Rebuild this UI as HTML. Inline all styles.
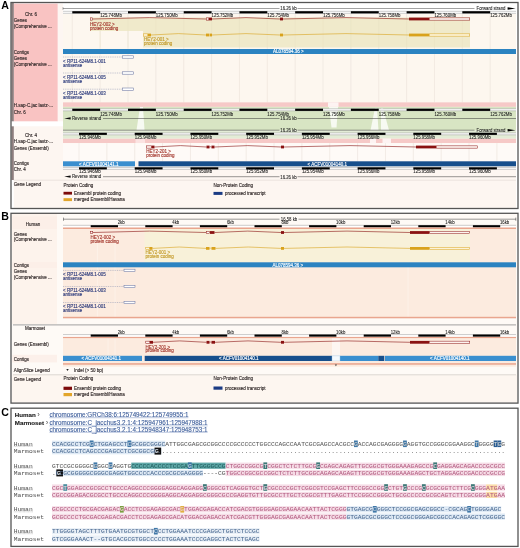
<!DOCTYPE html>
<html><head><meta charset="utf-8"><title>Ensembl alignment figure</title>
<style>
html,body{margin:0;padding:0;background:#fff;width:520px;height:548px;overflow:hidden;}
svg{display:block;filter:blur(0.3px);font-family:"Liberation Sans",sans-serif;}
</style></head>
<body>
<svg width="520" height="548" viewBox="0 0 520 548">
<rect x="0" y="0" width="520" height="548" fill="#fff"/>
<text x="1.20" y="9.32" font-size="10.6" fill="#000" text-anchor="start" font-weight="bold" font-family="Liberation Sans">A</text>
<text x="1.20" y="220.22" font-size="10.6" fill="#000" text-anchor="start" font-weight="bold" font-family="Liberation Sans">B</text>
<text x="1.20" y="415.72" font-size="10.6" fill="#000" text-anchor="start" font-weight="bold" font-family="Liberation Sans">C</text>
<rect x="13.80" y="3.60" width="44.00" height="117.70" fill="#f9c3c2"/>
<rect x="57.80" y="3.60" width="5.20" height="117.70" fill="#fdf6f2"/>
<rect x="13.80" y="126.30" width="502.20" height="81.50" fill="#fdf6f1"/>
<rect x="11.40" y="3.00" width="2.40" height="118.30" fill="#8e7e7e"/>
<rect x="11.40" y="126.30" width="2.40" height="53.70" fill="#8e7e7e"/>
<rect x="63.00" y="3.00" width="453.00" height="11.00" fill="#ffffff"/>
<line x1="63.00" y1="8.50" x2="279.50" y2="8.50" stroke="#444" stroke-width="0.5"/>
<line x1="297.50" y1="8.50" x2="474.50" y2="8.50" stroke="#444" stroke-width="0.5"/>
<line x1="63.00" y1="7.30" x2="63.00" y2="9.70" stroke="#444" stroke-width="0.5"/>
<text x="288.50" y="10.43" font-size="4.8" fill="#222" text-anchor="middle" font-weight="normal" font-family="Liberation Sans" stroke="#222" stroke-width="0.08" textLength="16.50" lengthAdjust="spacingAndGlyphs">16.26 kb</text>
<text x="476.50" y="10.43" font-size="4.8" fill="#222" text-anchor="start" font-weight="normal" font-family="Liberation Sans" stroke="#222" stroke-width="0.08" textLength="28.92" lengthAdjust="spacingAndGlyphs">Forward strand</text>
<polygon points="507.60,7.30 515.60,8.50 507.60,9.70" fill="#000"/>
<rect x="63.00" y="14.00" width="453.00" height="88.30" fill="#fdf7ef"/>
<rect x="63.00" y="11.30" width="453.00" height="2.00" fill="#ffffff"/>
<line x1="63.00" y1="11.30" x2="516.00" y2="11.30" stroke="#999" stroke-width="0.5"/>
<line x1="63.00" y1="13.30" x2="516.00" y2="13.30" stroke="#999" stroke-width="0.5"/>
<rect x="72.28" y="11.20" width="27.86" height="2.20" fill="#000"/>
<rect x="128.00" y="11.20" width="27.86" height="2.20" fill="#000"/>
<rect x="183.72" y="11.20" width="27.86" height="2.20" fill="#000"/>
<rect x="239.44" y="11.20" width="27.86" height="2.20" fill="#000"/>
<rect x="295.16" y="11.20" width="27.86" height="2.20" fill="#000"/>
<rect x="350.88" y="11.20" width="27.86" height="2.20" fill="#000"/>
<rect x="406.60" y="11.20" width="27.86" height="2.20" fill="#000"/>
<rect x="462.32" y="11.20" width="27.86" height="2.20" fill="#000"/>
<text x="100.14" y="17.43" font-size="4.8" fill="#222" text-anchor="start" font-weight="normal" font-family="Liberation Sans" stroke="#222" stroke-width="0.08" textLength="21.72" lengthAdjust="spacingAndGlyphs">125.748Mb</text>
<text x="155.86" y="17.43" font-size="4.8" fill="#222" text-anchor="start" font-weight="normal" font-family="Liberation Sans" stroke="#222" stroke-width="0.08" textLength="21.72" lengthAdjust="spacingAndGlyphs">125.750Mb</text>
<text x="211.58" y="17.43" font-size="4.8" fill="#222" text-anchor="start" font-weight="normal" font-family="Liberation Sans" stroke="#222" stroke-width="0.08" textLength="21.72" lengthAdjust="spacingAndGlyphs">125.752Mb</text>
<text x="267.30" y="17.43" font-size="4.8" fill="#222" text-anchor="start" font-weight="normal" font-family="Liberation Sans" stroke="#222" stroke-width="0.08" textLength="21.72" lengthAdjust="spacingAndGlyphs">125.754Mb</text>
<text x="323.02" y="17.43" font-size="4.8" fill="#222" text-anchor="start" font-weight="normal" font-family="Liberation Sans" stroke="#222" stroke-width="0.08" textLength="21.72" lengthAdjust="spacingAndGlyphs">125.756Mb</text>
<text x="378.74" y="17.43" font-size="4.8" fill="#222" text-anchor="start" font-weight="normal" font-family="Liberation Sans" stroke="#222" stroke-width="0.08" textLength="21.72" lengthAdjust="spacingAndGlyphs">125.758Mb</text>
<text x="434.46" y="17.43" font-size="4.8" fill="#222" text-anchor="start" font-weight="normal" font-family="Liberation Sans" stroke="#222" stroke-width="0.08" textLength="21.72" lengthAdjust="spacingAndGlyphs">125.760Mb</text>
<text x="490.18" y="17.43" font-size="4.8" fill="#222" text-anchor="start" font-weight="normal" font-family="Liberation Sans" stroke="#222" stroke-width="0.08" textLength="21.72" lengthAdjust="spacingAndGlyphs">125.762Mb</text>
<line x1="72.28" y1="14.00" x2="72.28" y2="102.30" stroke="#e6ddd4" stroke-width="0.5"/>
<line x1="100.14" y1="14.00" x2="100.14" y2="102.30" stroke="#e6ddd4" stroke-width="0.5"/>
<line x1="128.00" y1="14.00" x2="128.00" y2="102.30" stroke="#e6ddd4" stroke-width="0.5"/>
<line x1="155.86" y1="14.00" x2="155.86" y2="102.30" stroke="#e6ddd4" stroke-width="0.5"/>
<line x1="183.72" y1="14.00" x2="183.72" y2="102.30" stroke="#e6ddd4" stroke-width="0.5"/>
<line x1="211.58" y1="14.00" x2="211.58" y2="102.30" stroke="#e6ddd4" stroke-width="0.5"/>
<line x1="239.44" y1="14.00" x2="239.44" y2="102.30" stroke="#e6ddd4" stroke-width="0.5"/>
<line x1="267.30" y1="14.00" x2="267.30" y2="102.30" stroke="#e6ddd4" stroke-width="0.5"/>
<line x1="295.16" y1="14.00" x2="295.16" y2="102.30" stroke="#e6ddd4" stroke-width="0.5"/>
<line x1="323.02" y1="14.00" x2="323.02" y2="102.30" stroke="#e6ddd4" stroke-width="0.5"/>
<line x1="350.88" y1="14.00" x2="350.88" y2="102.30" stroke="#e6ddd4" stroke-width="0.5"/>
<line x1="378.74" y1="14.00" x2="378.74" y2="102.30" stroke="#e6ddd4" stroke-width="0.5"/>
<line x1="406.60" y1="14.00" x2="406.60" y2="102.30" stroke="#e6ddd4" stroke-width="0.5"/>
<line x1="434.46" y1="14.00" x2="434.46" y2="102.30" stroke="#e6ddd4" stroke-width="0.5"/>
<line x1="462.32" y1="14.00" x2="462.32" y2="102.30" stroke="#e6ddd4" stroke-width="0.5"/>
<line x1="490.18" y1="14.00" x2="490.18" y2="102.30" stroke="#e6ddd4" stroke-width="0.5"/>
<rect x="90.00" y="17.50" width="380.00" height="13.50" fill="#f0eacb"/>
<rect x="143.00" y="31.00" width="327.00" height="16.50" fill="#f0eacb"/>
<line x1="100.14" y1="17.50" x2="100.14" y2="47.50" stroke="#e6dfc0" stroke-width="0.4"/>
<line x1="128.00" y1="17.50" x2="128.00" y2="47.50" stroke="#e6dfc0" stroke-width="0.4"/>
<line x1="155.86" y1="17.50" x2="155.86" y2="47.50" stroke="#e6dfc0" stroke-width="0.4"/>
<line x1="183.72" y1="17.50" x2="183.72" y2="47.50" stroke="#e6dfc0" stroke-width="0.4"/>
<line x1="211.58" y1="17.50" x2="211.58" y2="47.50" stroke="#e6dfc0" stroke-width="0.4"/>
<line x1="239.44" y1="17.50" x2="239.44" y2="47.50" stroke="#e6dfc0" stroke-width="0.4"/>
<line x1="267.30" y1="17.50" x2="267.30" y2="47.50" stroke="#e6dfc0" stroke-width="0.4"/>
<line x1="295.16" y1="17.50" x2="295.16" y2="47.50" stroke="#e6dfc0" stroke-width="0.4"/>
<line x1="323.02" y1="17.50" x2="323.02" y2="47.50" stroke="#e6dfc0" stroke-width="0.4"/>
<line x1="350.88" y1="17.50" x2="350.88" y2="47.50" stroke="#e6dfc0" stroke-width="0.4"/>
<line x1="378.74" y1="17.50" x2="378.74" y2="47.50" stroke="#e6dfc0" stroke-width="0.4"/>
<line x1="406.60" y1="17.50" x2="406.60" y2="47.50" stroke="#e6dfc0" stroke-width="0.4"/>
<line x1="434.46" y1="17.50" x2="434.46" y2="47.50" stroke="#e6dfc0" stroke-width="0.4"/>
<line x1="462.32" y1="17.50" x2="462.32" y2="47.50" stroke="#e6dfc0" stroke-width="0.4"/>
<path d="M92.60,19.00 L149.30,17.60 L206.00,19.00 M212.00,19.00 L246.00,17.60 L280.00,19.00 M283.00,19.00 L346.00,17.60 L409.00,19.00 " stroke="#8a1212" stroke-width="0.6" fill="none"/>
<rect x="90.25" y="17.85" width="2.10" height="2.30" fill="#fdf3ef" stroke="#8a1212" stroke-width="0.5"/>
<rect x="206.25" y="17.85" width="2.50" height="2.30" fill="#fdf3ef" stroke="#8a1212" stroke-width="0.5"/>
<rect x="209.00" y="17.60" width="3.00" height="2.80" fill="#8a1212"/>
<rect x="280.00" y="17.60" width="3.00" height="2.80" fill="#8a1212"/>
<rect x="409.00" y="17.60" width="20.00" height="2.80" fill="#8a1212"/>
<rect x="429.25" y="17.85" width="40.50" height="2.30" fill="#fdf3ef" stroke="#8a1212" stroke-width="0.5"/>
<text x="90.00" y="25.62" font-size="4.5" fill="#a3362c" text-anchor="start" font-weight="normal" font-family="Liberation Sans" stroke="#a3362c" stroke-width="0.13">HEY2-002 &gt;</text>
<text x="90.00" y="29.82" font-size="4.5" fill="#a3362c" text-anchor="start" font-weight="normal" font-family="Liberation Sans" stroke="#a3362c" stroke-width="0.13">protein coding</text>
<path d="M151.00,35.00 L178.50,33.60 L206.00,35.00 M212.00,35.00 L246.00,33.60 L280.00,35.00 M283.00,35.00 L346.00,33.60 L409.00,35.00 " stroke="#d9a21c" stroke-width="0.6" fill="none"/>
<rect x="143.25" y="33.85" width="4.50" height="2.30" fill="#fcf3d6" stroke="#d9a21c" stroke-width="0.5"/>
<rect x="148.00" y="33.60" width="3.00" height="2.80" fill="#d9a21c"/>
<rect x="206.00" y="33.60" width="3.00" height="2.80" fill="#d9a21c"/>
<rect x="209.50" y="33.60" width="2.50" height="2.80" fill="#d9a21c"/>
<rect x="280.00" y="33.60" width="3.00" height="2.80" fill="#d9a21c"/>
<rect x="409.00" y="33.60" width="20.00" height="2.80" fill="#d9a21c"/>
<rect x="429.25" y="33.85" width="40.50" height="2.30" fill="#fcf3d6" stroke="#d9a21c" stroke-width="0.5"/>
<text x="144.00" y="41.12" font-size="4.5" fill="#c49a28" text-anchor="start" font-weight="normal" font-family="Liberation Sans" stroke="#c49a28" stroke-width="0.13">HEY2-001 &gt;</text>
<text x="144.00" y="45.22" font-size="4.5" fill="#c49a28" text-anchor="start" font-weight="normal" font-family="Liberation Sans" stroke="#c49a28" stroke-width="0.13">protein coding</text>
<rect x="63.00" y="49.00" width="453.00" height="5.00" fill="#2b83c1"/>
<text x="273.00" y="53.22" font-size="4.5" fill="#fff" text-anchor="start" font-weight="normal" font-family="Liberation Sans" stroke="#fff" stroke-width="0.13">AL078594.36 &gt;</text>
<line x1="63.00" y1="57.00" x2="122.30" y2="57.00" stroke="#8890b0" stroke-width="0.5" stroke-dasharray="1,0.8"/>
<rect x="122.30" y="55.80" width="11.00" height="2.40" fill="#fff" stroke="#6a76a2" stroke-width="0.55"/>
<text x="63.00" y="62.72" font-size="4.5" fill="#2b3a7c" text-anchor="start" font-weight="normal" font-family="Liberation Sans" stroke="#2b3a7c" stroke-width="0.13">&lt; RP11-624M8.1-001</text>
<text x="63.00" y="66.92" font-size="4.5" fill="#2b3a7c" text-anchor="start" font-weight="normal" font-family="Liberation Sans" stroke="#2b3a7c" stroke-width="0.13">antisense</text>
<line x1="63.00" y1="73.00" x2="122.30" y2="73.00" stroke="#8890b0" stroke-width="0.5" stroke-dasharray="1,0.8"/>
<rect x="122.30" y="71.80" width="11.00" height="2.40" fill="#fff" stroke="#6a76a2" stroke-width="0.55"/>
<text x="63.00" y="78.72" font-size="4.5" fill="#2b3a7c" text-anchor="start" font-weight="normal" font-family="Liberation Sans" stroke="#2b3a7c" stroke-width="0.13">&lt; RP11-624M8.1-005</text>
<text x="63.00" y="82.92" font-size="4.5" fill="#2b3a7c" text-anchor="start" font-weight="normal" font-family="Liberation Sans" stroke="#2b3a7c" stroke-width="0.13">antisense</text>
<line x1="63.00" y1="89.20" x2="122.30" y2="89.20" stroke="#8890b0" stroke-width="0.5" stroke-dasharray="1,0.8"/>
<rect x="122.30" y="88.00" width="11.00" height="2.40" fill="#fff" stroke="#6a76a2" stroke-width="0.55"/>
<text x="63.00" y="94.92" font-size="4.5" fill="#2b3a7c" text-anchor="start" font-weight="normal" font-family="Liberation Sans" stroke="#2b3a7c" stroke-width="0.13">&lt; RP11-624M8.1-003</text>
<text x="63.00" y="99.12" font-size="4.5" fill="#2b3a7c" text-anchor="start" font-weight="normal" font-family="Liberation Sans" stroke="#2b3a7c" stroke-width="0.13">antisense</text>
<text x="31.00" y="15.82" font-size="4.5" fill="#2e2626" text-anchor="middle" font-weight="normal" font-family="Liberation Sans" stroke="#2e2626" stroke-width="0.13">Chr. 6</text>
<text x="13.80" y="22.42" font-size="4.5" fill="#2e2626" text-anchor="start" font-weight="normal" font-family="Liberation Sans" stroke="#2e2626" stroke-width="0.13">Genes</text>
<text x="13.80" y="28.02" font-size="4.5" fill="#2e2626" text-anchor="start" font-weight="normal" font-family="Liberation Sans" stroke="#2e2626" stroke-width="0.13">(Comprehensive ...</text>
<text x="13.80" y="53.52" font-size="4.5" fill="#2e2626" text-anchor="start" font-weight="normal" font-family="Liberation Sans" stroke="#2e2626" stroke-width="0.13">Contigs</text>
<text x="13.80" y="59.92" font-size="4.5" fill="#2e2626" text-anchor="start" font-weight="normal" font-family="Liberation Sans" stroke="#2e2626" stroke-width="0.13">Genes</text>
<text x="13.80" y="65.62" font-size="4.5" fill="#2e2626" text-anchor="start" font-weight="normal" font-family="Liberation Sans" stroke="#2e2626" stroke-width="0.13">(Comprehensive ...</text>
<text x="13.80" y="106.62" font-size="4.5" fill="#2e2626" text-anchor="start" font-weight="normal" font-family="Liberation Sans" stroke="#2e2626" stroke-width="0.13">H.sap-C.jac lastz-...</text>
<text x="13.80" y="113.62" font-size="4.5" fill="#2e2626" text-anchor="start" font-weight="normal" font-family="Liberation Sans" stroke="#2e2626" stroke-width="0.13">Chr. 6</text>
<rect x="63.00" y="102.30" width="453.00" height="4.60" fill="#f6c9c7"/>
<rect x="63.00" y="106.90" width="453.00" height="23.30" fill="#d8e5c3"/>
<rect x="63.00" y="138.50" width="453.00" height="4.60" fill="#f6c9c7"/>
<rect x="63.00" y="130.20" width="453.00" height="8.30" fill="#e3ecd6"/>
<rect x="328.00" y="102.30" width="10.50" height="4.60" fill="#fdf3f2"/>
<polygon points="329.00,106.90 338.00,106.90 336.50,127.50 331.50,127.50" fill="#f7faf2"/>
<polygon points="375.00,108.00 377.00,108.00 378.50,130.20 370.50,130.20" fill="#f7faf2"/>
<polygon points="381.00,108.00 383.00,108.00 389.00,130.20 381.00,130.20" fill="#f7faf2"/>
<rect x="370.00" y="138.50" width="6.00" height="4.60" fill="#fdf3f2"/>
<rect x="382.50" y="138.50" width="8.50" height="4.60" fill="#fdf3f2"/>
<polygon points="140.00,106.90 143.00,106.90 144.50,130.20 136.50,130.20" fill="#f7faf2"/>
<rect x="135.50" y="138.50" width="9.50" height="4.60" fill="#fbe3e2"/>
<rect x="63.00" y="108.80" width="453.00" height="2.00" fill="#ffffff"/>
<line x1="63.00" y1="108.80" x2="516.00" y2="108.80" stroke="#999" stroke-width="0.5"/>
<line x1="63.00" y1="110.80" x2="516.00" y2="110.80" stroke="#999" stroke-width="0.5"/>
<rect x="72.28" y="108.70" width="27.86" height="2.20" fill="#000"/>
<rect x="128.00" y="108.70" width="27.86" height="2.20" fill="#000"/>
<rect x="183.72" y="108.70" width="27.86" height="2.20" fill="#000"/>
<rect x="239.44" y="108.70" width="27.86" height="2.20" fill="#000"/>
<rect x="295.16" y="108.70" width="27.86" height="2.20" fill="#000"/>
<rect x="350.88" y="108.70" width="27.86" height="2.20" fill="#000"/>
<rect x="406.60" y="108.70" width="27.86" height="2.20" fill="#000"/>
<rect x="462.32" y="108.70" width="27.86" height="2.20" fill="#000"/>
<text x="100.14" y="115.73" font-size="4.8" fill="#222" text-anchor="start" font-weight="normal" font-family="Liberation Sans" stroke="#222" stroke-width="0.08" textLength="21.72" lengthAdjust="spacingAndGlyphs">125.748Mb</text>
<text x="155.86" y="115.73" font-size="4.8" fill="#222" text-anchor="start" font-weight="normal" font-family="Liberation Sans" stroke="#222" stroke-width="0.08" textLength="21.72" lengthAdjust="spacingAndGlyphs">125.750Mb</text>
<text x="211.58" y="115.73" font-size="4.8" fill="#222" text-anchor="start" font-weight="normal" font-family="Liberation Sans" stroke="#222" stroke-width="0.08" textLength="21.72" lengthAdjust="spacingAndGlyphs">125.752Mb</text>
<text x="267.30" y="115.73" font-size="4.8" fill="#222" text-anchor="start" font-weight="normal" font-family="Liberation Sans" stroke="#222" stroke-width="0.08" textLength="21.72" lengthAdjust="spacingAndGlyphs">125.754Mb</text>
<text x="323.02" y="115.73" font-size="4.8" fill="#222" text-anchor="start" font-weight="normal" font-family="Liberation Sans" stroke="#222" stroke-width="0.08" textLength="21.72" lengthAdjust="spacingAndGlyphs">125.756Mb</text>
<text x="378.74" y="115.73" font-size="4.8" fill="#222" text-anchor="start" font-weight="normal" font-family="Liberation Sans" stroke="#222" stroke-width="0.08" textLength="21.72" lengthAdjust="spacingAndGlyphs">125.758Mb</text>
<text x="434.46" y="115.73" font-size="4.8" fill="#222" text-anchor="start" font-weight="normal" font-family="Liberation Sans" stroke="#222" stroke-width="0.08" textLength="21.72" lengthAdjust="spacingAndGlyphs">125.760Mb</text>
<text x="490.18" y="115.73" font-size="4.8" fill="#222" text-anchor="start" font-weight="normal" font-family="Liberation Sans" stroke="#222" stroke-width="0.08" textLength="21.72" lengthAdjust="spacingAndGlyphs">125.762Mb</text>
<polygon points="64.20,118.40 70.60,117.30 70.60,119.50" fill="#111"/>
<text x="72.00" y="120.23" font-size="4.8" fill="#222" text-anchor="start" font-weight="normal" font-family="Liberation Sans" stroke="#222" stroke-width="0.08" textLength="29.16" lengthAdjust="spacingAndGlyphs">Reverse strand</text>
<line x1="103.00" y1="118.50" x2="279.50" y2="118.50" stroke="#333" stroke-width="0.5"/>
<line x1="297.50" y1="118.50" x2="516.00" y2="118.50" stroke="#333" stroke-width="0.5"/>
<text x="288.50" y="120.33" font-size="4.8" fill="#222" text-anchor="middle" font-weight="normal" font-family="Liberation Sans" stroke="#222" stroke-width="0.08" textLength="16.50" lengthAdjust="spacingAndGlyphs">16.26 kb</text>
<line x1="63.00" y1="130.20" x2="279.50" y2="130.20" stroke="#333" stroke-width="0.5"/>
<line x1="297.50" y1="130.20" x2="474.50" y2="130.20" stroke="#333" stroke-width="0.5"/>
<text x="288.50" y="132.03" font-size="4.8" fill="#222" text-anchor="middle" font-weight="normal" font-family="Liberation Sans" stroke="#222" stroke-width="0.08" textLength="16.50" lengthAdjust="spacingAndGlyphs">16.26 kb</text>
<text x="476.50" y="132.03" font-size="4.8" fill="#222" text-anchor="start" font-weight="normal" font-family="Liberation Sans" stroke="#222" stroke-width="0.08" textLength="28.92" lengthAdjust="spacingAndGlyphs">Forward strand</text>
<polygon points="507.60,129.10 515.60,130.30 507.60,131.50" fill="#000"/>
<rect x="63.00" y="132.90" width="453.00" height="1.90" fill="#ffffff"/>
<line x1="63.00" y1="132.90" x2="516.00" y2="132.90" stroke="#999" stroke-width="0.5"/>
<line x1="63.00" y1="134.80" x2="516.00" y2="134.80" stroke="#999" stroke-width="0.5"/>
<rect x="79.00" y="132.80" width="27.86" height="2.10" fill="#000"/>
<rect x="134.72" y="132.80" width="27.86" height="2.10" fill="#000"/>
<rect x="190.44" y="132.80" width="27.86" height="2.10" fill="#000"/>
<rect x="246.16" y="132.80" width="27.86" height="2.10" fill="#000"/>
<rect x="301.88" y="132.80" width="27.86" height="2.10" fill="#000"/>
<rect x="357.60" y="132.80" width="27.86" height="2.10" fill="#000"/>
<rect x="413.32" y="132.80" width="27.86" height="2.10" fill="#000"/>
<rect x="469.04" y="132.80" width="27.86" height="2.10" fill="#000"/>
<text x="79.00" y="138.73" font-size="4.8" fill="#222" text-anchor="start" font-weight="normal" font-family="Liberation Sans" stroke="#222" stroke-width="0.08" textLength="21.72" lengthAdjust="spacingAndGlyphs">125.946Mb</text>
<text x="134.72" y="138.73" font-size="4.8" fill="#222" text-anchor="start" font-weight="normal" font-family="Liberation Sans" stroke="#222" stroke-width="0.08" textLength="21.72" lengthAdjust="spacingAndGlyphs">125.948Mb</text>
<text x="190.44" y="138.73" font-size="4.8" fill="#222" text-anchor="start" font-weight="normal" font-family="Liberation Sans" stroke="#222" stroke-width="0.08" textLength="21.72" lengthAdjust="spacingAndGlyphs">125.950Mb</text>
<text x="246.16" y="138.73" font-size="4.8" fill="#222" text-anchor="start" font-weight="normal" font-family="Liberation Sans" stroke="#222" stroke-width="0.08" textLength="21.72" lengthAdjust="spacingAndGlyphs">125.952Mb</text>
<text x="301.88" y="138.73" font-size="4.8" fill="#222" text-anchor="start" font-weight="normal" font-family="Liberation Sans" stroke="#222" stroke-width="0.08" textLength="21.72" lengthAdjust="spacingAndGlyphs">125.954Mb</text>
<text x="357.60" y="138.73" font-size="4.8" fill="#222" text-anchor="start" font-weight="normal" font-family="Liberation Sans" stroke="#222" stroke-width="0.08" textLength="21.72" lengthAdjust="spacingAndGlyphs">125.956Mb</text>
<text x="413.32" y="138.73" font-size="4.8" fill="#222" text-anchor="start" font-weight="normal" font-family="Liberation Sans" stroke="#222" stroke-width="0.08" textLength="21.72" lengthAdjust="spacingAndGlyphs">125.958Mb</text>
<text x="469.04" y="138.73" font-size="4.8" fill="#222" text-anchor="start" font-weight="normal" font-family="Liberation Sans" stroke="#222" stroke-width="0.08" textLength="21.72" lengthAdjust="spacingAndGlyphs">125.960Mb</text>
<text x="31.00" y="136.62" font-size="4.5" fill="#2e2626" text-anchor="middle" font-weight="normal" font-family="Liberation Sans" stroke="#2e2626" stroke-width="0.13">Chr. 4</text>
<text x="13.80" y="143.12" font-size="4.5" fill="#2e2626" text-anchor="start" font-weight="normal" font-family="Liberation Sans" stroke="#2e2626" stroke-width="0.13">H.sap-C.jac lastz-...</text>
<text x="13.80" y="150.22" font-size="4.5" fill="#2e2626" text-anchor="start" font-weight="normal" font-family="Liberation Sans" stroke="#2e2626" stroke-width="0.13">Genes (Ensembl)</text>
<text x="13.80" y="165.12" font-size="4.5" fill="#2e2626" text-anchor="start" font-weight="normal" font-family="Liberation Sans" stroke="#2e2626" stroke-width="0.13">Contigs</text>
<text x="13.80" y="171.22" font-size="4.5" fill="#2e2626" text-anchor="start" font-weight="normal" font-family="Liberation Sans" stroke="#2e2626" stroke-width="0.13">Chr. 4</text>
<rect x="63.00" y="143.10" width="453.00" height="18.20" fill="#fefaf7"/>
<line x1="79.00" y1="143.10" x2="79.00" y2="161.30" stroke="#e6ddd4" stroke-width="0.5"/>
<line x1="106.86" y1="143.10" x2="106.86" y2="161.30" stroke="#e6ddd4" stroke-width="0.5"/>
<line x1="134.72" y1="143.10" x2="134.72" y2="161.30" stroke="#e6ddd4" stroke-width="0.5"/>
<line x1="162.58" y1="143.10" x2="162.58" y2="161.30" stroke="#e6ddd4" stroke-width="0.5"/>
<line x1="190.44" y1="143.10" x2="190.44" y2="161.30" stroke="#e6ddd4" stroke-width="0.5"/>
<line x1="218.30" y1="143.10" x2="218.30" y2="161.30" stroke="#e6ddd4" stroke-width="0.5"/>
<line x1="246.16" y1="143.10" x2="246.16" y2="161.30" stroke="#e6ddd4" stroke-width="0.5"/>
<line x1="274.02" y1="143.10" x2="274.02" y2="161.30" stroke="#e6ddd4" stroke-width="0.5"/>
<line x1="301.88" y1="143.10" x2="301.88" y2="161.30" stroke="#e6ddd4" stroke-width="0.5"/>
<line x1="329.74" y1="143.10" x2="329.74" y2="161.30" stroke="#e6ddd4" stroke-width="0.5"/>
<line x1="357.60" y1="143.10" x2="357.60" y2="161.30" stroke="#e6ddd4" stroke-width="0.5"/>
<line x1="385.46" y1="143.10" x2="385.46" y2="161.30" stroke="#e6ddd4" stroke-width="0.5"/>
<line x1="413.32" y1="143.10" x2="413.32" y2="161.30" stroke="#e6ddd4" stroke-width="0.5"/>
<line x1="441.18" y1="143.10" x2="441.18" y2="161.30" stroke="#e6ddd4" stroke-width="0.5"/>
<line x1="469.04" y1="143.10" x2="469.04" y2="161.30" stroke="#e6ddd4" stroke-width="0.5"/>
<line x1="496.90" y1="143.10" x2="496.90" y2="161.30" stroke="#e6ddd4" stroke-width="0.5"/>
<path d="M154.50,147.00 L180.50,145.60 L206.50,147.00 M209.50,147.00 L210.50,146.75 L211.50,147.00 M214.50,147.00 L247.75,145.60 L281.00,147.00 M284.00,147.00 L350.00,145.60 L416.00,147.00 " stroke="#8a1212" stroke-width="0.6" fill="none"/>
<rect x="146.45" y="145.85" width="4.80" height="2.30" fill="#fdf3ef" stroke="#8a1212" stroke-width="0.5"/>
<rect x="151.50" y="145.60" width="3.00" height="2.80" fill="#8a1212"/>
<rect x="206.50" y="145.60" width="3.00" height="2.80" fill="#8a1212"/>
<rect x="211.50" y="145.60" width="3.00" height="2.80" fill="#8a1212"/>
<rect x="281.00" y="145.60" width="3.00" height="2.80" fill="#8a1212"/>
<rect x="416.00" y="145.60" width="20.00" height="2.80" fill="#8a1212"/>
<rect x="436.25" y="145.85" width="41.00" height="2.30" fill="#fdf3ef" stroke="#8a1212" stroke-width="0.5"/>
<text x="146.20" y="152.92" font-size="4.5" fill="#a3362c" text-anchor="start" font-weight="normal" font-family="Liberation Sans" stroke="#a3362c" stroke-width="0.13">HEY2-201 &gt;</text>
<text x="146.20" y="157.12" font-size="4.5" fill="#a3362c" text-anchor="start" font-weight="normal" font-family="Liberation Sans" stroke="#a3362c" stroke-width="0.13">protein coding</text>
<rect x="63.00" y="161.30" width="72.00" height="5.00" fill="#3a8fcf"/>
<rect x="138.50" y="161.30" width="377.50" height="5.00" fill="#174f8c"/>
<text x="79.00" y="165.52" font-size="4.5" fill="#fff" text-anchor="start" font-weight="normal" font-family="Liberation Sans" stroke="#fff" stroke-width="0.13">&lt; ACFV01004141.1</text>
<text x="307.50" y="165.52" font-size="4.5" fill="#fff" text-anchor="start" font-weight="normal" font-family="Liberation Sans" stroke="#fff" stroke-width="0.13">&lt; ACFV01004140.1</text>
<rect x="63.00" y="167.40" width="453.00" height="1.90" fill="#ffffff"/>
<line x1="63.00" y1="167.40" x2="516.00" y2="167.40" stroke="#999" stroke-width="0.5"/>
<line x1="63.00" y1="169.30" x2="516.00" y2="169.30" stroke="#999" stroke-width="0.5"/>
<rect x="79.00" y="167.30" width="27.86" height="2.10" fill="#000"/>
<rect x="134.72" y="167.30" width="27.86" height="2.10" fill="#000"/>
<rect x="190.44" y="167.30" width="27.86" height="2.10" fill="#000"/>
<rect x="246.16" y="167.30" width="27.86" height="2.10" fill="#000"/>
<rect x="301.88" y="167.30" width="27.86" height="2.10" fill="#000"/>
<rect x="357.60" y="167.30" width="27.86" height="2.10" fill="#000"/>
<rect x="413.32" y="167.30" width="27.86" height="2.10" fill="#000"/>
<rect x="469.04" y="167.30" width="27.86" height="2.10" fill="#000"/>
<text x="79.00" y="173.13" font-size="4.8" fill="#222" text-anchor="start" font-weight="normal" font-family="Liberation Sans" stroke="#222" stroke-width="0.08" textLength="21.72" lengthAdjust="spacingAndGlyphs">125.946Mb</text>
<text x="134.72" y="173.13" font-size="4.8" fill="#222" text-anchor="start" font-weight="normal" font-family="Liberation Sans" stroke="#222" stroke-width="0.08" textLength="21.72" lengthAdjust="spacingAndGlyphs">125.948Mb</text>
<text x="190.44" y="173.13" font-size="4.8" fill="#222" text-anchor="start" font-weight="normal" font-family="Liberation Sans" stroke="#222" stroke-width="0.08" textLength="21.72" lengthAdjust="spacingAndGlyphs">125.950Mb</text>
<text x="246.16" y="173.13" font-size="4.8" fill="#222" text-anchor="start" font-weight="normal" font-family="Liberation Sans" stroke="#222" stroke-width="0.08" textLength="21.72" lengthAdjust="spacingAndGlyphs">125.952Mb</text>
<text x="301.88" y="173.13" font-size="4.8" fill="#222" text-anchor="start" font-weight="normal" font-family="Liberation Sans" stroke="#222" stroke-width="0.08" textLength="21.72" lengthAdjust="spacingAndGlyphs">125.954Mb</text>
<text x="357.60" y="173.13" font-size="4.8" fill="#222" text-anchor="start" font-weight="normal" font-family="Liberation Sans" stroke="#222" stroke-width="0.08" textLength="21.72" lengthAdjust="spacingAndGlyphs">125.956Mb</text>
<text x="413.32" y="173.13" font-size="4.8" fill="#222" text-anchor="start" font-weight="normal" font-family="Liberation Sans" stroke="#222" stroke-width="0.08" textLength="21.72" lengthAdjust="spacingAndGlyphs">125.958Mb</text>
<text x="469.04" y="173.13" font-size="4.8" fill="#222" text-anchor="start" font-weight="normal" font-family="Liberation Sans" stroke="#222" stroke-width="0.08" textLength="21.72" lengthAdjust="spacingAndGlyphs">125.960Mb</text>
<polygon points="64.20,176.60 70.60,175.50 70.60,177.70" fill="#111"/>
<text x="72.00" y="178.43" font-size="4.8" fill="#222" text-anchor="start" font-weight="normal" font-family="Liberation Sans" stroke="#222" stroke-width="0.08" textLength="29.16" lengthAdjust="spacingAndGlyphs">Reverse strand</text>
<line x1="103.00" y1="176.70" x2="279.50" y2="176.70" stroke="#333" stroke-width="0.5"/>
<line x1="297.50" y1="176.70" x2="516.00" y2="176.70" stroke="#333" stroke-width="0.5"/>
<text x="288.50" y="178.53" font-size="4.8" fill="#222" text-anchor="middle" font-weight="normal" font-family="Liberation Sans" stroke="#222" stroke-width="0.08" textLength="16.50" lengthAdjust="spacingAndGlyphs">16.26 kb</text>
<line x1="13.80" y1="180.20" x2="516.00" y2="180.20" stroke="#d8d0c8" stroke-width="0.5"/>
<text x="13.80" y="186.22" font-size="4.5" fill="#2e2626" text-anchor="start" font-weight="normal" font-family="Liberation Sans" stroke="#2e2626" stroke-width="0.13">Gene Legend</text>
<text x="63.50" y="186.62" font-size="4.5" fill="#2e2626" text-anchor="start" font-weight="normal" font-family="Liberation Sans" stroke="#2e2626" stroke-width="0.13">Protein Coding</text>
<text x="213.50" y="186.62" font-size="4.5" fill="#2e2626" text-anchor="start" font-weight="normal" font-family="Liberation Sans" stroke="#2e2626" stroke-width="0.13">Non-Protein Coding</text>
<rect x="63.50" y="191.80" width="8.50" height="2.80" fill="#7d0b0b"/>
<text x="74.00" y="194.82" font-size="4.5" fill="#2e2626" text-anchor="start" font-weight="normal" font-family="Liberation Sans" stroke="#2e2626" stroke-width="0.13">Ensembl protein coding</text>
<rect x="63.50" y="198.20" width="8.50" height="2.90" fill="#e2a52a"/>
<text x="74.00" y="201.42" font-size="4.5" fill="#2e2626" text-anchor="start" font-weight="normal" font-family="Liberation Sans" stroke="#2e2626" stroke-width="0.13">merged Ensembl/Havana</text>
<rect x="213.50" y="191.90" width="9.00" height="3.00" fill="#1b3b84"/>
<text x="225.00" y="195.02" font-size="4.5" fill="#2e2626" text-anchor="start" font-weight="normal" font-family="Liberation Sans" stroke="#2e2626" stroke-width="0.13">processed transcript</text>
<rect x="11.00" y="2.50" width="507.00" height="206.00" fill="none" stroke="#555555" stroke-width="1.3"/>
<rect x="12.00" y="214.00" width="505.00" height="188.50" fill="#fefaf6"/>
<rect x="12.30" y="214.00" width="44.70" height="110.00" fill="#fdf3ec"/>
<rect x="12.30" y="216.50" width="44.70" height="12.50" fill="#fcefe8"/>
<rect x="12.30" y="262.00" width="44.70" height="6.00" fill="#fcefe8"/>
<rect x="63.00" y="229.00" width="453.00" height="88.50" fill="#fcebdf"/>
<rect x="144.50" y="229.00" width="325.50" height="33.00" fill="#f8f1d9"/>
<line x1="97.40" y1="240.00" x2="97.40" y2="317.00" stroke="#fdf3ec" stroke-width="0.7"/>
<line x1="115.00" y1="240.00" x2="115.00" y2="317.00" stroke="#fdf3ec" stroke-width="0.7"/>
<line x1="408.00" y1="262.00" x2="408.00" y2="317.00" stroke="#fdf3ec" stroke-width="0.7"/>
<line x1="63.50" y1="219.20" x2="279.50" y2="219.20" stroke="#333" stroke-width="0.5"/>
<line x1="298.50" y1="219.20" x2="516.00" y2="219.20" stroke="#333" stroke-width="0.5"/>
<line x1="63.50" y1="217.60" x2="63.50" y2="220.80" stroke="#333" stroke-width="0.5"/>
<line x1="515.80" y1="217.60" x2="515.80" y2="220.80" stroke="#333" stroke-width="0.5"/>
<text x="289.00" y="220.53" font-size="4.8" fill="#222" text-anchor="middle" font-weight="normal" font-family="Liberation Sans" stroke="#222" stroke-width="0.08" textLength="16.50" lengthAdjust="spacingAndGlyphs">16.58 kb</text>
<text x="117.70" y="224.13" font-size="4.8" fill="#222" text-anchor="start" font-weight="normal" font-family="Liberation Sans" stroke="#222" stroke-width="0.08" textLength="6.93" lengthAdjust="spacingAndGlyphs">2kb</text>
<text x="172.30" y="224.13" font-size="4.8" fill="#222" text-anchor="start" font-weight="normal" font-family="Liberation Sans" stroke="#222" stroke-width="0.08" textLength="6.93" lengthAdjust="spacingAndGlyphs">4kb</text>
<text x="226.90" y="224.13" font-size="4.8" fill="#222" text-anchor="start" font-weight="normal" font-family="Liberation Sans" stroke="#222" stroke-width="0.08" textLength="6.93" lengthAdjust="spacingAndGlyphs">6kb</text>
<text x="281.50" y="224.13" font-size="4.8" fill="#222" text-anchor="start" font-weight="normal" font-family="Liberation Sans" stroke="#222" stroke-width="0.08" textLength="6.93" lengthAdjust="spacingAndGlyphs">8kb</text>
<text x="336.10" y="224.13" font-size="4.8" fill="#222" text-anchor="start" font-weight="normal" font-family="Liberation Sans" stroke="#222" stroke-width="0.08" textLength="9.32" lengthAdjust="spacingAndGlyphs">10kb</text>
<text x="390.70" y="224.13" font-size="4.8" fill="#222" text-anchor="start" font-weight="normal" font-family="Liberation Sans" stroke="#222" stroke-width="0.08" textLength="9.32" lengthAdjust="spacingAndGlyphs">12kb</text>
<text x="445.30" y="224.13" font-size="4.8" fill="#222" text-anchor="start" font-weight="normal" font-family="Liberation Sans" stroke="#222" stroke-width="0.08" textLength="9.32" lengthAdjust="spacingAndGlyphs">14kb</text>
<text x="499.90" y="224.13" font-size="4.8" fill="#222" text-anchor="start" font-weight="normal" font-family="Liberation Sans" stroke="#222" stroke-width="0.08" textLength="9.32" lengthAdjust="spacingAndGlyphs">16kb</text>
<rect x="63.00" y="225.30" width="453.00" height="2.00" fill="#fff"/>
<line x1="63.00" y1="225.30" x2="516.00" y2="225.30" stroke="#999" stroke-width="0.5"/>
<rect x="90.70" y="225.20" width="27.30" height="2.20" fill="#000"/>
<rect x="145.30" y="225.20" width="27.30" height="2.20" fill="#000"/>
<rect x="199.90" y="225.20" width="27.30" height="2.20" fill="#000"/>
<rect x="254.50" y="225.20" width="27.30" height="2.20" fill="#000"/>
<rect x="309.10" y="225.20" width="27.30" height="2.20" fill="#000"/>
<rect x="363.70" y="225.20" width="27.30" height="2.20" fill="#000"/>
<rect x="418.30" y="225.20" width="27.30" height="2.20" fill="#000"/>
<rect x="472.90" y="225.20" width="27.30" height="2.20" fill="#000"/>
<rect x="63.00" y="227.50" width="453.00" height="1.50" fill="#e9a58e"/>
<path d="M93.00,232.50 L149.50,231.10 L206.00,232.50 M214.50,232.50 L247.75,231.10 L281.00,232.50 M284.00,232.50 L347.00,231.10 L410.00,232.50 " stroke="#8a1212" stroke-width="0.6" fill="none"/>
<rect x="90.65" y="231.35" width="2.10" height="2.30" fill="#fdf3ef" stroke="#8a1212" stroke-width="0.5"/>
<rect x="206.25" y="231.35" width="3.00" height="2.30" fill="#fdf3ef" stroke="#8a1212" stroke-width="0.5"/>
<rect x="210.00" y="231.10" width="4.50" height="2.80" fill="#8a1212"/>
<rect x="281.00" y="231.10" width="3.00" height="2.80" fill="#8a1212"/>
<rect x="410.00" y="231.10" width="19.50" height="2.80" fill="#8a1212"/>
<rect x="429.75" y="231.35" width="39.50" height="2.30" fill="#fdf3ef" stroke="#8a1212" stroke-width="0.5"/>
<text x="90.40" y="238.62" font-size="4.5" fill="#a3362c" text-anchor="start" font-weight="normal" font-family="Liberation Sans" stroke="#a3362c" stroke-width="0.13">HEY2-002 &gt;</text>
<text x="90.40" y="242.52" font-size="4.5" fill="#a3362c" text-anchor="start" font-weight="normal" font-family="Liberation Sans" stroke="#a3362c" stroke-width="0.13">protein coding</text>
<path d="M152.50,248.40 L179.25,247.00 L206.00,248.40 M209.50,248.40 L210.50,248.15 L211.50,248.40 M215.50,248.40 L248.25,247.00 L281.00,248.40 M284.00,248.40 L347.00,247.00 L410.00,248.40 " stroke="#d9a21c" stroke-width="0.6" fill="none"/>
<rect x="145.75" y="247.25" width="3.50" height="2.30" fill="#fcf3d6" stroke="#d9a21c" stroke-width="0.5"/>
<rect x="149.50" y="247.00" width="3.00" height="2.80" fill="#d9a21c"/>
<rect x="206.00" y="247.00" width="3.50" height="2.80" fill="#d9a21c"/>
<rect x="211.50" y="247.00" width="4.00" height="2.80" fill="#d9a21c"/>
<rect x="281.00" y="247.00" width="3.00" height="2.80" fill="#d9a21c"/>
<rect x="410.00" y="247.00" width="19.50" height="2.80" fill="#d9a21c"/>
<rect x="429.75" y="247.25" width="39.50" height="2.30" fill="#fcf3d6" stroke="#d9a21c" stroke-width="0.5"/>
<text x="145.50" y="254.22" font-size="4.5" fill="#c49a28" text-anchor="start" font-weight="normal" font-family="Liberation Sans" stroke="#c49a28" stroke-width="0.13">HEY2-001 &gt;</text>
<text x="145.50" y="258.22" font-size="4.5" fill="#c49a28" text-anchor="start" font-weight="normal" font-family="Liberation Sans" stroke="#c49a28" stroke-width="0.13">protein coding</text>
<rect x="63.00" y="262.30" width="453.00" height="5.00" fill="#2b83c1"/>
<text x="272.50" y="266.52" font-size="4.5" fill="#fff" text-anchor="start" font-weight="normal" font-family="Liberation Sans" stroke="#fff" stroke-width="0.13">AL078594.36 &gt;</text>
<line x1="63.00" y1="270.40" x2="124.00" y2="270.40" stroke="#8890b0" stroke-width="0.5" stroke-dasharray="1,0.8"/>
<rect x="124.00" y="269.20" width="11.00" height="2.40" fill="#fff" stroke="#6a76a2" stroke-width="0.55"/>
<text x="63.00" y="276.12" font-size="4.5" fill="#2b3a7c" text-anchor="start" font-weight="normal" font-family="Liberation Sans" stroke="#2b3a7c" stroke-width="0.13">&lt; RP11-624M8.1-005</text>
<text x="63.00" y="280.32" font-size="4.5" fill="#2b3a7c" text-anchor="start" font-weight="normal" font-family="Liberation Sans" stroke="#2b3a7c" stroke-width="0.13">antisense</text>
<line x1="63.00" y1="286.50" x2="124.00" y2="286.50" stroke="#8890b0" stroke-width="0.5" stroke-dasharray="1,0.8"/>
<rect x="124.00" y="285.30" width="11.00" height="2.40" fill="#fff" stroke="#6a76a2" stroke-width="0.55"/>
<text x="63.00" y="292.22" font-size="4.5" fill="#2b3a7c" text-anchor="start" font-weight="normal" font-family="Liberation Sans" stroke="#2b3a7c" stroke-width="0.13">&lt; RP11-624M8.1-003</text>
<text x="63.00" y="296.42" font-size="4.5" fill="#2b3a7c" text-anchor="start" font-weight="normal" font-family="Liberation Sans" stroke="#2b3a7c" stroke-width="0.13">antisense</text>
<line x1="63.00" y1="302.50" x2="124.00" y2="302.50" stroke="#8890b0" stroke-width="0.5" stroke-dasharray="1,0.8"/>
<rect x="124.00" y="301.30" width="11.00" height="2.40" fill="#fff" stroke="#6a76a2" stroke-width="0.55"/>
<text x="63.00" y="308.22" font-size="4.5" fill="#2b3a7c" text-anchor="start" font-weight="normal" font-family="Liberation Sans" stroke="#2b3a7c" stroke-width="0.13">&lt; RP11-624M8.1-001</text>
<text x="63.00" y="312.42" font-size="4.5" fill="#2b3a7c" text-anchor="start" font-weight="normal" font-family="Liberation Sans" stroke="#2b3a7c" stroke-width="0.13">antisense</text>
<rect x="63.00" y="316.80" width="453.00" height="1.50" fill="#e9a58e"/>
<text x="33.00" y="226.02" font-size="4.5" fill="#2e2626" text-anchor="middle" font-weight="normal" font-family="Liberation Sans" stroke="#2e2626" stroke-width="0.13">Human</text>
<text x="13.80" y="235.62" font-size="4.5" fill="#2e2626" text-anchor="start" font-weight="normal" font-family="Liberation Sans" stroke="#2e2626" stroke-width="0.13">Genes</text>
<text x="13.80" y="241.22" font-size="4.5" fill="#2e2626" text-anchor="start" font-weight="normal" font-family="Liberation Sans" stroke="#2e2626" stroke-width="0.13">(Comprehensive ...</text>
<text x="13.80" y="267.02" font-size="4.5" fill="#2e2626" text-anchor="start" font-weight="normal" font-family="Liberation Sans" stroke="#2e2626" stroke-width="0.13">Contigs</text>
<text x="13.80" y="273.22" font-size="4.5" fill="#2e2626" text-anchor="start" font-weight="normal" font-family="Liberation Sans" stroke="#2e2626" stroke-width="0.13">Genes</text>
<text x="13.80" y="278.82" font-size="4.5" fill="#2e2626" text-anchor="start" font-weight="normal" font-family="Liberation Sans" stroke="#2e2626" stroke-width="0.13">(Comprehensive ...</text>
<line x1="13.00" y1="324.90" x2="516.00" y2="324.90" stroke="#8a8a8a" stroke-width="0.8"/>
<text x="35.00" y="329.82" font-size="4.5" fill="#2e2626" text-anchor="middle" font-weight="normal" font-family="Liberation Sans" stroke="#2e2626" stroke-width="0.13">Marmoset</text>
<rect x="63.00" y="337.50" width="453.00" height="26.00" fill="#fcebdf"/>
<rect x="332.00" y="337.50" width="8.00" height="26.00" fill="#fdf6f2"/>
<line x1="108.00" y1="338.50" x2="108.00" y2="355.50" stroke="#fdf3ec" stroke-width="0.7"/>
<line x1="115.00" y1="338.50" x2="115.00" y2="355.50" stroke="#fdf3ec" stroke-width="0.7"/>
<text x="117.70" y="333.63" font-size="4.8" fill="#222" text-anchor="start" font-weight="normal" font-family="Liberation Sans" stroke="#222" stroke-width="0.08" textLength="6.93" lengthAdjust="spacingAndGlyphs">2kb</text>
<text x="172.30" y="333.63" font-size="4.8" fill="#222" text-anchor="start" font-weight="normal" font-family="Liberation Sans" stroke="#222" stroke-width="0.08" textLength="6.93" lengthAdjust="spacingAndGlyphs">4kb</text>
<text x="226.90" y="333.63" font-size="4.8" fill="#222" text-anchor="start" font-weight="normal" font-family="Liberation Sans" stroke="#222" stroke-width="0.08" textLength="6.93" lengthAdjust="spacingAndGlyphs">6kb</text>
<text x="281.50" y="333.63" font-size="4.8" fill="#222" text-anchor="start" font-weight="normal" font-family="Liberation Sans" stroke="#222" stroke-width="0.08" textLength="6.93" lengthAdjust="spacingAndGlyphs">8kb</text>
<text x="336.10" y="333.63" font-size="4.8" fill="#222" text-anchor="start" font-weight="normal" font-family="Liberation Sans" stroke="#222" stroke-width="0.08" textLength="9.32" lengthAdjust="spacingAndGlyphs">10kb</text>
<text x="390.70" y="333.63" font-size="4.8" fill="#222" text-anchor="start" font-weight="normal" font-family="Liberation Sans" stroke="#222" stroke-width="0.08" textLength="9.32" lengthAdjust="spacingAndGlyphs">12kb</text>
<text x="445.30" y="333.63" font-size="4.8" fill="#222" text-anchor="start" font-weight="normal" font-family="Liberation Sans" stroke="#222" stroke-width="0.08" textLength="9.32" lengthAdjust="spacingAndGlyphs">14kb</text>
<text x="499.90" y="333.63" font-size="4.8" fill="#222" text-anchor="start" font-weight="normal" font-family="Liberation Sans" stroke="#222" stroke-width="0.08" textLength="9.32" lengthAdjust="spacingAndGlyphs">16kb</text>
<rect x="63.00" y="334.60" width="453.00" height="2.00" fill="#fff"/>
<line x1="63.00" y1="334.60" x2="516.00" y2="334.60" stroke="#999" stroke-width="0.5"/>
<rect x="90.70" y="334.50" width="27.30" height="2.20" fill="#000"/>
<rect x="145.30" y="334.50" width="27.30" height="2.20" fill="#000"/>
<rect x="199.90" y="334.50" width="27.30" height="2.20" fill="#000"/>
<rect x="254.50" y="334.50" width="27.30" height="2.20" fill="#000"/>
<rect x="309.10" y="334.50" width="27.30" height="2.20" fill="#000"/>
<rect x="363.70" y="334.50" width="27.30" height="2.20" fill="#000"/>
<rect x="418.30" y="334.50" width="27.30" height="2.20" fill="#000"/>
<rect x="472.90" y="334.50" width="27.30" height="2.20" fill="#000"/>
<rect x="63.00" y="336.90" width="453.00" height="1.20" fill="#e9a58e"/>
<path d="M153.00,342.30 L179.75,340.90 L206.50,342.30 M209.50,342.30 L210.50,342.05 L211.50,342.30 M215.00,342.30 L248.00,340.90 L281.00,342.30 M284.00,342.30 L347.00,340.90 L410.00,342.30 " stroke="#8a1212" stroke-width="0.6" fill="none"/>
<rect x="145.75" y="341.15" width="4.00" height="2.30" fill="#fdf3ef" stroke="#8a1212" stroke-width="0.5"/>
<rect x="150.00" y="340.90" width="3.00" height="2.80" fill="#8a1212"/>
<rect x="206.50" y="340.90" width="3.00" height="2.80" fill="#8a1212"/>
<rect x="211.50" y="340.90" width="3.50" height="2.80" fill="#8a1212"/>
<rect x="281.00" y="340.90" width="3.00" height="2.80" fill="#8a1212"/>
<rect x="410.00" y="340.90" width="19.00" height="2.80" fill="#8a1212"/>
<rect x="429.25" y="341.15" width="40.50" height="2.30" fill="#fdf3ef" stroke="#8a1212" stroke-width="0.5"/>
<text x="145.50" y="348.62" font-size="4.5" fill="#a3362c" text-anchor="start" font-weight="normal" font-family="Liberation Sans" stroke="#a3362c" stroke-width="0.13">HEY2-201 &gt;</text>
<text x="145.50" y="352.32" font-size="4.5" fill="#a3362c" text-anchor="start" font-weight="normal" font-family="Liberation Sans" stroke="#a3362c" stroke-width="0.13">protein coding</text>
<rect x="63.00" y="355.80" width="79.00" height="5.30" fill="#3a8fcf"/>
<rect x="144.70" y="355.80" width="187.30" height="5.30" fill="#174f8c"/>
<rect x="340.00" y="355.80" width="38.30" height="5.30" fill="#3a8fcf"/>
<rect x="378.30" y="355.80" width="6.00" height="5.30" fill="#174f8c"/>
<rect x="385.00" y="355.80" width="131.00" height="5.30" fill="#3a8fcf"/>
<rect x="332.00" y="355.90" width="8.00" height="5.10" fill="#f4f9fd" stroke="#9cc4e4" stroke-width="0.4"/>
<text x="81.50" y="360.12" font-size="4.5" fill="#fff" text-anchor="start" font-weight="normal" font-family="Liberation Sans" stroke="#fff" stroke-width="0.13">&lt; ACFV01004141.1</text>
<text x="219.00" y="360.12" font-size="4.5" fill="#fff" text-anchor="start" font-weight="normal" font-family="Liberation Sans" stroke="#fff" stroke-width="0.13">&lt; ACFV01004140.1</text>
<text x="430.00" y="360.12" font-size="4.5" fill="#fff" text-anchor="start" font-weight="normal" font-family="Liberation Sans" stroke="#fff" stroke-width="0.13">&lt; ACFV01004140.1</text>
<rect x="63.00" y="361.10" width="453.00" height="5.60" fill="#fcebdf"/>
<rect x="63.00" y="363.20" width="453.00" height="1.50" fill="#e9a58e"/>
<polygon points="334.80,364.60 337.00,364.60 335.90,366.20" fill="#444"/>
<text x="13.80" y="345.92" font-size="4.5" fill="#2e2626" text-anchor="start" font-weight="normal" font-family="Liberation Sans" stroke="#2e2626" stroke-width="0.13">Genes (Ensembl)</text>
<rect x="12.30" y="354.80" width="44.70" height="7.60" fill="#fcf0ea"/>
<text x="13.80" y="360.62" font-size="4.5" fill="#2e2626" text-anchor="start" font-weight="normal" font-family="Liberation Sans" stroke="#2e2626" stroke-width="0.13">Contigs</text>
<text x="13.80" y="371.82" font-size="4.5" fill="#2e2626" text-anchor="start" font-weight="normal" font-family="Liberation Sans" stroke="#2e2626" stroke-width="0.13">AlignSlice Legend</text>
<polygon points="66.30,369.00 68.70,369.00 67.50,371.00" fill="#222"/>
<text x="74.00" y="371.92" font-size="4.5" fill="#2e2626" text-anchor="start" font-weight="normal" font-family="Liberation Sans" stroke="#2e2626" stroke-width="0.13">Indel (&gt; 50 bp)</text>
<rect x="12.00" y="374.80" width="505.00" height="27.70" fill="#fdf6f0"/>
<line x1="13.00" y1="374.80" x2="516.00" y2="374.80" stroke="#cfc9c4" stroke-width="0.7"/>
<text x="13.80" y="380.82" font-size="4.5" fill="#2e2626" text-anchor="start" font-weight="normal" font-family="Liberation Sans" stroke="#2e2626" stroke-width="0.13">Gene Legend</text>
<text x="63.50" y="380.42" font-size="4.5" fill="#2e2626" text-anchor="start" font-weight="normal" font-family="Liberation Sans" stroke="#2e2626" stroke-width="0.13">Protein Coding</text>
<text x="213.50" y="380.42" font-size="4.5" fill="#2e2626" text-anchor="start" font-weight="normal" font-family="Liberation Sans" stroke="#2e2626" stroke-width="0.13">Non-Protein Coding</text>
<rect x="63.50" y="386.70" width="8.50" height="3.20" fill="#7d0b0b"/>
<text x="74.00" y="389.92" font-size="4.5" fill="#2e2626" text-anchor="start" font-weight="normal" font-family="Liberation Sans" stroke="#2e2626" stroke-width="0.13">Ensembl protein coding</text>
<rect x="63.50" y="393.00" width="8.50" height="3.20" fill="#e2a52a"/>
<text x="74.00" y="396.22" font-size="4.5" fill="#2e2626" text-anchor="start" font-weight="normal" font-family="Liberation Sans" stroke="#2e2626" stroke-width="0.13">merged Ensembl/Havana</text>
<rect x="213.50" y="386.50" width="9.00" height="3.20" fill="#1b3b84"/>
<text x="225.00" y="389.92" font-size="4.5" fill="#2e2626" text-anchor="start" font-weight="normal" font-family="Liberation Sans" stroke="#2e2626" stroke-width="0.13">processed transcript</text>
<rect x="11.00" y="213.30" width="507.00" height="189.80" fill="none" stroke="#555555" stroke-width="1.3"/>
<rect x="11.00" y="408.20" width="507.00" height="138.20" fill="#ffffff" stroke="#555555" stroke-width="1.3"/>
<text x="14.80" y="416.83" font-size="6.2" fill="#222" text-anchor="start" font-weight="bold" font-family="Liberation Sans" stroke="#222" stroke-width="0.13">Human</text>
<text x="37.60" y="416.90" font-size="6.4" fill="#666" text-anchor="start" font-weight="normal" font-family="Liberation Sans" stroke="#666" stroke-width="0.13">›</text>
<text x="14.80" y="425.13" font-size="6.2" fill="#222" text-anchor="start" font-weight="bold" font-family="Liberation Sans" stroke="#222" stroke-width="0.13">Marmoset</text>
<text x="46.00" y="425.20" font-size="6.4" fill="#666" text-anchor="start" font-weight="normal" font-family="Liberation Sans" stroke="#666" stroke-width="0.13">›</text>
<text x="49.40" y="417.06" font-size="6.28" fill="#40609c" text-anchor="start" font-weight="normal" font-family="Liberation Sans" stroke="#40609c" stroke-width="0.12" textLength="139.0" lengthAdjust="spacingAndGlyphs">chromosome:GRCh38:6:125749422:125749955:1</text>
<line x1="49.40" y1="417.70" x2="188.40" y2="417.70" stroke="#8ea3c9" stroke-width="0.6"/>
<text x="49.40" y="425.26" font-size="6.28" fill="#40609c" text-anchor="start" font-weight="normal" font-family="Liberation Sans" stroke="#40609c" stroke-width="0.12" textLength="158.2" lengthAdjust="spacingAndGlyphs">chromosome:C_jacchus3.2.1:4:125947961:125947988:1</text>
<line x1="49.40" y1="425.90" x2="207.60" y2="425.90" stroke="#8ea3c9" stroke-width="0.6"/>
<text x="49.40" y="431.66" font-size="6.28" fill="#40609c" text-anchor="start" font-weight="normal" font-family="Liberation Sans" stroke="#40609c" stroke-width="0.12" textLength="158.2" lengthAdjust="spacingAndGlyphs">chromosome:C_jacchus3.2.1:4:125948347:125948753:1</text>
<line x1="49.40" y1="432.30" x2="207.60" y2="432.30" stroke="#8ea3c9" stroke-width="0.6"/>
<text x="13.80" y="445.82" font-size="5.6" fill="#555" text-anchor="start" font-weight="normal" font-family="Liberation Mono" stroke="#555" stroke-width="0.03" textLength="18.88" lengthAdjust="spacingAndGlyphs">Human</text>
<line x1="13.80" y1="446.30" x2="32.67" y2="446.30" stroke="#888" stroke-width="0.45" stroke-dasharray="0.8,0.5"/>
<text x="13.80" y="453.22" font-size="5.6" fill="#555" text-anchor="start" font-weight="normal" font-family="Liberation Mono" stroke="#555" stroke-width="0.03" textLength="30.20" lengthAdjust="spacingAndGlyphs">Marmoset</text>
<rect x="52.00" y="440.70" width="113.25" height="6.20" fill="#dfeaf5"/>
<rect x="89.75" y="440.50" width="3.77" height="6.60" fill="#3f78a8"/>
<rect x="127.50" y="440.50" width="3.77" height="6.60" fill="#3f78a8"/>
<rect x="354.00" y="440.50" width="3.77" height="6.60" fill="#3f78a8"/>
<rect x="403.07" y="440.50" width="3.77" height="6.60" fill="#3f78a8"/>
<rect x="474.80" y="440.50" width="3.77" height="6.60" fill="#3f78a8"/>
<rect x="493.68" y="440.50" width="3.77" height="6.60" fill="#2a5d93"/>
<rect x="497.45" y="440.50" width="3.77" height="6.60" fill="#2a5d93"/>
<text x="52.00" y="445.82" font-size="5.6" fill="#46668e" text-anchor="start" font-weight="normal" font-family="Liberation Mono" stroke="#46668e" stroke-width="0.03" textLength="113.25" lengthAdjust="spacingAndGlyphs">CCACGCCTCGGCTGGAGCCTCGCGGCGGGC</text>
<text x="165.25" y="445.82" font-size="5.6" fill="#555" text-anchor="start" font-weight="normal" font-family="Liberation Mono" stroke="#555" stroke-width="0.03" textLength="339.75" lengthAdjust="spacingAndGlyphs">ATTGGCGAGCGCGGCCCCGCCCCCTGGCCCAGCCAATCGCGAGCCACGCCGACCAGCGAGGGGGAGGTGCCGGGCGGAAGGCTGGGGTGG</text>
<text x="89.75" y="445.82" font-size="5.6" fill="#cfe0ee" text-anchor="start" font-weight="normal" font-family="Liberation Mono" stroke="#cfe0ee" stroke-width="0.03" textLength="3.77" lengthAdjust="spacingAndGlyphs">G</text>
<text x="127.50" y="445.82" font-size="5.6" fill="#cfe0ee" text-anchor="start" font-weight="normal" font-family="Liberation Mono" stroke="#cfe0ee" stroke-width="0.03" textLength="3.77" lengthAdjust="spacingAndGlyphs">C</text>
<text x="354.00" y="445.82" font-size="5.6" fill="#cfe0ee" text-anchor="start" font-weight="normal" font-family="Liberation Mono" stroke="#cfe0ee" stroke-width="0.03" textLength="3.77" lengthAdjust="spacingAndGlyphs">G</text>
<text x="403.07" y="445.82" font-size="5.6" fill="#cfe0ee" text-anchor="start" font-weight="normal" font-family="Liberation Mono" stroke="#cfe0ee" stroke-width="0.03" textLength="3.77" lengthAdjust="spacingAndGlyphs">G</text>
<text x="474.80" y="445.82" font-size="5.6" fill="#cfe0ee" text-anchor="start" font-weight="normal" font-family="Liberation Mono" stroke="#cfe0ee" stroke-width="0.03" textLength="3.77" lengthAdjust="spacingAndGlyphs">T</text>
<text x="493.68" y="445.82" font-size="5.6" fill="#cfe0ee" text-anchor="start" font-weight="normal" font-family="Liberation Mono" stroke="#cfe0ee" stroke-width="0.03" textLength="3.77" lengthAdjust="spacingAndGlyphs">T</text>
<text x="497.45" y="445.82" font-size="5.6" fill="#cfe0ee" text-anchor="start" font-weight="normal" font-family="Liberation Mono" stroke="#cfe0ee" stroke-width="0.03" textLength="3.77" lengthAdjust="spacingAndGlyphs">G</text>
<rect x="52.00" y="448.10" width="109.47" height="6.20" fill="#dfeaf5"/>
<rect x="154.53" y="447.60" width="6.61" height="7.00" fill="#111"/>
<text x="52.00" y="453.22" font-size="5.6" fill="#46668e" text-anchor="start" font-weight="normal" font-family="Liberation Mono" stroke="#46668e" stroke-width="0.03" textLength="109.47" lengthAdjust="spacingAndGlyphs">CCACGCCTCAGCCCGAGCCTCGCGGCGG.</text>
<text x="161.47" y="453.22" font-size="5.6" fill="#555" text-anchor="start" font-weight="normal" font-family="Liberation Mono" stroke="#555" stroke-width="0.03" textLength="343.52" lengthAdjust="spacingAndGlyphs">...........................................................................................</text>
<text x="155.12" y="453.22" font-size="5.6" fill="#fff" text-anchor="start" font-weight="normal" font-family="Liberation Mono" stroke="#fff" stroke-width="0.03" textLength="3.77" lengthAdjust="spacingAndGlyphs">G</text>
<text x="13.80" y="467.72" font-size="5.6" fill="#555" text-anchor="start" font-weight="normal" font-family="Liberation Mono" stroke="#555" stroke-width="0.03" textLength="18.88" lengthAdjust="spacingAndGlyphs">Human</text>
<line x1="13.80" y1="468.20" x2="32.67" y2="468.20" stroke="#888" stroke-width="0.45" stroke-dasharray="0.8,0.5"/>
<text x="13.80" y="475.02" font-size="5.6" fill="#555" text-anchor="start" font-weight="normal" font-family="Liberation Mono" stroke="#555" stroke-width="0.03" textLength="30.20" lengthAdjust="spacingAndGlyphs">Marmoset</text>
<rect x="131.27" y="462.60" width="94.38" height="6.20" fill="#5fa8a8"/>
<rect x="225.65" y="462.60" width="279.35" height="6.20" fill="#f6dde7"/>
<rect x="93.53" y="462.40" width="3.77" height="6.60" fill="#3f78a8"/>
<rect x="108.62" y="462.40" width="3.77" height="6.60" fill="#3f78a8"/>
<rect x="187.90" y="462.40" width="3.77" height="6.60" fill="#3a74a6"/>
<rect x="263.40" y="462.40" width="3.77" height="6.60" fill="#3c7a78"/>
<rect x="316.25" y="462.40" width="3.77" height="6.60" fill="#3c7a78"/>
<rect x="433.27" y="462.40" width="3.77" height="6.60" fill="#3c7a78"/>
<text x="52.00" y="467.72" font-size="5.6" fill="#555" text-anchor="start" font-weight="normal" font-family="Liberation Mono" stroke="#555" stroke-width="0.03" textLength="79.27" lengthAdjust="spacingAndGlyphs">GTCCGCGGGGCGGGCGAGGTG</text>
<text x="131.27" y="467.72" font-size="5.6" fill="#1d5a5a" text-anchor="start" font-weight="normal" font-family="Liberation Mono" stroke="#1d5a5a" stroke-width="0.03" textLength="94.38" lengthAdjust="spacingAndGlyphs">CCCCCACCCCTCCGAGTTGGGGCCG</text>
<text x="225.65" y="467.72" font-size="5.6" fill="#b0587e" text-anchor="start" font-weight="normal" font-family="Liberation Mono" stroke="#b0587e" stroke-width="0.03" textLength="279.35" lengthAdjust="spacingAndGlyphs">CTGGCCGGCGTCGGCTCTCTTGCGGCGAGCAGAGTTGCGGCGTGGGAAAGAGCCGCGAGGAGCAGACCCGCGCC</text>
<text x="93.53" y="467.72" font-size="5.6" fill="#cfe0ee" text-anchor="start" font-weight="normal" font-family="Liberation Mono" stroke="#cfe0ee" stroke-width="0.03" textLength="3.77" lengthAdjust="spacingAndGlyphs">G</text>
<text x="108.62" y="467.72" font-size="5.6" fill="#cfe0ee" text-anchor="start" font-weight="normal" font-family="Liberation Mono" stroke="#cfe0ee" stroke-width="0.03" textLength="3.77" lengthAdjust="spacingAndGlyphs">G</text>
<text x="187.90" y="467.72" font-size="5.6" fill="#cfe0ee" text-anchor="start" font-weight="normal" font-family="Liberation Mono" stroke="#cfe0ee" stroke-width="0.03" textLength="3.77" lengthAdjust="spacingAndGlyphs">G</text>
<text x="263.40" y="467.72" font-size="5.6" fill="#d0e8e8" text-anchor="start" font-weight="normal" font-family="Liberation Mono" stroke="#d0e8e8" stroke-width="0.03" textLength="3.77" lengthAdjust="spacingAndGlyphs">T</text>
<text x="316.25" y="467.72" font-size="5.6" fill="#d0e8e8" text-anchor="start" font-weight="normal" font-family="Liberation Mono" stroke="#d0e8e8" stroke-width="0.03" textLength="3.77" lengthAdjust="spacingAndGlyphs">G</text>
<text x="433.27" y="467.72" font-size="5.6" fill="#d0e8e8" text-anchor="start" font-weight="normal" font-family="Liberation Mono" stroke="#d0e8e8" stroke-width="0.03" textLength="3.77" lengthAdjust="spacingAndGlyphs">C</text>
<rect x="55.77" y="469.90" width="147.22" height="6.20" fill="#dfeaf5"/>
<rect x="225.65" y="469.90" width="279.35" height="6.20" fill="#f6dde7"/>
<rect x="56.38" y="469.40" width="6.61" height="7.00" fill="#111"/>
<text x="52.00" y="475.02" font-size="5.6" fill="#333" text-anchor="start" font-weight="normal" font-family="Liberation Mono" stroke="#333" stroke-width="0.03" textLength="3.77" lengthAdjust="spacingAndGlyphs">.</text>
<text x="55.77" y="475.02" font-size="5.6" fill="#46668e" text-anchor="start" font-weight="normal" font-family="Liberation Mono" stroke="#46668e" stroke-width="0.03" textLength="147.22" lengthAdjust="spacingAndGlyphs">GCGCGGGGGCGGGCGAGGTGGCCCCACCCGCGCGAGGGG</text>
<text x="203.00" y="475.02" font-size="5.6" fill="#555" text-anchor="start" font-weight="normal" font-family="Liberation Mono" stroke="#555" stroke-width="0.03" textLength="22.65" lengthAdjust="spacingAndGlyphs">----CG</text>
<text x="225.65" y="475.02" font-size="5.6" fill="#b0587e" text-anchor="start" font-weight="normal" font-family="Liberation Mono" stroke="#b0587e" stroke-width="0.03" textLength="279.35" lengthAdjust="spacingAndGlyphs">TGGCCGGCGCCGGCTCTCTTGCGGCAGAGCAGAGTTGCGGCGTGGGAAAGAGCTGCTAGGAGCCGACCCCGCCG</text>
<text x="56.98" y="475.02" font-size="5.6" fill="#fff" text-anchor="start" font-weight="normal" font-family="Liberation Mono" stroke="#fff" stroke-width="0.03" textLength="3.77" lengthAdjust="spacingAndGlyphs">G</text>
<text x="13.80" y="489.52" font-size="5.6" fill="#555" text-anchor="start" font-weight="normal" font-family="Liberation Mono" stroke="#555" stroke-width="0.03" textLength="18.88" lengthAdjust="spacingAndGlyphs">Human</text>
<line x1="13.80" y1="490.00" x2="32.67" y2="490.00" stroke="#888" stroke-width="0.45" stroke-dasharray="0.8,0.5"/>
<text x="13.80" y="496.92" font-size="5.6" fill="#555" text-anchor="start" font-weight="normal" font-family="Liberation Mono" stroke="#555" stroke-width="0.03" textLength="30.20" lengthAdjust="spacingAndGlyphs">Marmoset</text>
<rect x="52.00" y="484.40" width="434.12" height="6.20" fill="#f6dde7"/>
<rect x="486.12" y="484.40" width="11.32" height="6.20" fill="#fbdca8"/>
<rect x="497.45" y="484.40" width="7.55" height="6.20" fill="#f6dde7"/>
<rect x="63.33" y="484.20" width="3.77" height="6.60" fill="#4a90a0"/>
<rect x="203.00" y="484.20" width="3.77" height="6.60" fill="#3c7a78"/>
<rect x="263.40" y="484.20" width="3.77" height="6.60" fill="#3c7a78"/>
<rect x="384.20" y="484.20" width="3.77" height="6.60" fill="#3c7a78"/>
<rect x="403.07" y="484.20" width="3.77" height="6.60" fill="#3c7a78"/>
<rect x="421.95" y="484.20" width="3.77" height="6.60" fill="#3c7a78"/>
<rect x="471.02" y="484.20" width="3.77" height="6.60" fill="#3c7a78"/>
<text x="52.00" y="489.52" font-size="5.6" fill="#b0587e" text-anchor="start" font-weight="normal" font-family="Liberation Mono" stroke="#b0587e" stroke-width="0.03" textLength="434.12" lengthAdjust="spacingAndGlyphs">CGCTGGAGCCGCGCCTGCCCAGGCCCGGGGAGGCAGGAGGCGGGCGTCAGGGTGCTGCGCCCCGCTCGGCGTCCGAGCTTCCGGCCGGGCTGTGCCCGCGCGCGGTCTTCGCGGG</text>
<text x="486.12" y="489.52" font-size="5.6" fill="#b0587e" text-anchor="start" font-weight="normal" font-family="Liberation Mono" stroke="#b0587e" stroke-width="0.03" textLength="11.32" lengthAdjust="spacingAndGlyphs">ATG</text>
<text x="497.45" y="489.52" font-size="5.6" fill="#b0587e" text-anchor="start" font-weight="normal" font-family="Liberation Mono" stroke="#b0587e" stroke-width="0.03" textLength="7.55" lengthAdjust="spacingAndGlyphs">AA</text>
<text x="63.33" y="489.52" font-size="5.6" fill="#d0e8e8" text-anchor="start" font-weight="normal" font-family="Liberation Mono" stroke="#d0e8e8" stroke-width="0.03" textLength="3.77" lengthAdjust="spacingAndGlyphs">T</text>
<text x="203.00" y="489.52" font-size="5.6" fill="#d0e8e8" text-anchor="start" font-weight="normal" font-family="Liberation Mono" stroke="#d0e8e8" stroke-width="0.03" textLength="3.77" lengthAdjust="spacingAndGlyphs">C</text>
<text x="263.40" y="489.52" font-size="5.6" fill="#d0e8e8" text-anchor="start" font-weight="normal" font-family="Liberation Mono" stroke="#d0e8e8" stroke-width="0.03" textLength="3.77" lengthAdjust="spacingAndGlyphs">G</text>
<text x="384.20" y="489.52" font-size="5.6" fill="#d0e8e8" text-anchor="start" font-weight="normal" font-family="Liberation Mono" stroke="#d0e8e8" stroke-width="0.03" textLength="3.77" lengthAdjust="spacingAndGlyphs">G</text>
<text x="403.07" y="489.52" font-size="5.6" fill="#d0e8e8" text-anchor="start" font-weight="normal" font-family="Liberation Mono" stroke="#d0e8e8" stroke-width="0.03" textLength="3.77" lengthAdjust="spacingAndGlyphs">G</text>
<text x="421.95" y="489.52" font-size="5.6" fill="#d0e8e8" text-anchor="start" font-weight="normal" font-family="Liberation Mono" stroke="#d0e8e8" stroke-width="0.03" textLength="3.77" lengthAdjust="spacingAndGlyphs">C</text>
<text x="471.02" y="489.52" font-size="5.6" fill="#d0e8e8" text-anchor="start" font-weight="normal" font-family="Liberation Mono" stroke="#d0e8e8" stroke-width="0.03" textLength="3.77" lengthAdjust="spacingAndGlyphs">C</text>
<rect x="52.00" y="491.80" width="434.12" height="6.20" fill="#f6dde7"/>
<rect x="486.12" y="491.80" width="11.32" height="6.20" fill="#fbdca8"/>
<rect x="497.45" y="491.80" width="7.55" height="6.20" fill="#f6dde7"/>
<text x="52.00" y="496.92" font-size="5.6" fill="#b0587e" text-anchor="start" font-weight="normal" font-family="Liberation Mono" stroke="#b0587e" stroke-width="0.03" textLength="434.12" lengthAdjust="spacingAndGlyphs">CGCCGGAGACGCGCCTGCCCAGGCCCGGGGAGGCAGGAGGCGGGCGCCGAGGTGTTGCGCCTTGCTCGGCGTTTGAGCTTCCGGCCGGGCTGCGCCCCCGCGCAGTCTTCGCGGG</text>
<text x="486.12" y="496.92" font-size="5.6" fill="#b0587e" text-anchor="start" font-weight="normal" font-family="Liberation Mono" stroke="#b0587e" stroke-width="0.03" textLength="11.32" lengthAdjust="spacingAndGlyphs">ATG</text>
<text x="497.45" y="496.92" font-size="5.6" fill="#b0587e" text-anchor="start" font-weight="normal" font-family="Liberation Mono" stroke="#b0587e" stroke-width="0.03" textLength="7.55" lengthAdjust="spacingAndGlyphs">AA</text>
<text x="13.80" y="511.32" font-size="5.6" fill="#555" text-anchor="start" font-weight="normal" font-family="Liberation Mono" stroke="#555" stroke-width="0.03" textLength="18.88" lengthAdjust="spacingAndGlyphs">Human</text>
<line x1="13.80" y1="511.80" x2="32.67" y2="511.80" stroke="#888" stroke-width="0.45" stroke-dasharray="0.8,0.5"/>
<text x="13.80" y="518.62" font-size="5.6" fill="#555" text-anchor="start" font-weight="normal" font-family="Liberation Mono" stroke="#555" stroke-width="0.03" textLength="30.20" lengthAdjust="spacingAndGlyphs">Marmoset</text>
<rect x="52.00" y="506.20" width="294.45" height="6.20" fill="#f6dde7"/>
<rect x="346.45" y="506.20" width="154.78" height="6.20" fill="#dfeaf5"/>
<rect x="119.95" y="506.00" width="3.77" height="6.60" fill="#78a040"/>
<rect x="180.35" y="506.00" width="3.77" height="6.60" fill="#e0b040"/>
<rect x="372.88" y="506.00" width="3.77" height="6.60" fill="#3f78a8"/>
<rect x="467.25" y="506.00" width="3.77" height="6.60" fill="#3f78a8"/>
<text x="52.00" y="511.32" font-size="5.6" fill="#b0587e" text-anchor="start" font-weight="normal" font-family="Liberation Mono" stroke="#b0587e" stroke-width="0.03" textLength="294.45" lengthAdjust="spacingAndGlyphs">GCGCCCCTGCGACGAGACGACCTCCGAGAGCGACGTGGACGAGACCATCGACGTGGGGAGCGAGAACAATTACTCGGG</text>
<text x="346.45" y="511.32" font-size="5.6" fill="#46668e" text-anchor="start" font-weight="normal" font-family="Liberation Mono" stroke="#46668e" stroke-width="0.03" textLength="154.78" lengthAdjust="spacingAndGlyphs">GTGAGCGCGGGCTCCGGCGAGCGGCC-CGCAGCTGGGGAGC</text>
<text x="119.95" y="511.32" font-size="5.6" fill="#e8f0d0" text-anchor="start" font-weight="normal" font-family="Liberation Mono" stroke="#e8f0d0" stroke-width="0.03" textLength="3.77" lengthAdjust="spacingAndGlyphs">G</text>
<text x="180.35" y="511.32" font-size="5.6" fill="#fff0c0" text-anchor="start" font-weight="normal" font-family="Liberation Mono" stroke="#fff0c0" stroke-width="0.03" textLength="3.77" lengthAdjust="spacingAndGlyphs">G</text>
<text x="372.88" y="511.32" font-size="5.6" fill="#cfe0ee" text-anchor="start" font-weight="normal" font-family="Liberation Mono" stroke="#cfe0ee" stroke-width="0.03" textLength="3.77" lengthAdjust="spacingAndGlyphs">C</text>
<text x="467.25" y="511.32" font-size="5.6" fill="#cfe0ee" text-anchor="start" font-weight="normal" font-family="Liberation Mono" stroke="#cfe0ee" stroke-width="0.03" textLength="3.77" lengthAdjust="spacingAndGlyphs">C</text>
<rect x="52.00" y="513.50" width="294.45" height="6.20" fill="#f6dde7"/>
<rect x="346.45" y="513.50" width="158.55" height="6.20" fill="#dfeaf5"/>
<text x="52.00" y="518.62" font-size="5.6" fill="#b0587e" text-anchor="start" font-weight="normal" font-family="Liberation Mono" stroke="#b0587e" stroke-width="0.03" textLength="294.45" lengthAdjust="spacingAndGlyphs">GCGCCCCTGCGACGAGACGACCTCCGAGAGCGACATGGACGAGACCATCGACGTTGGGAGCGAGAACAATTACTCGGG</text>
<text x="346.45" y="518.62" font-size="5.6" fill="#46668e" text-anchor="start" font-weight="normal" font-family="Liberation Mono" stroke="#46668e" stroke-width="0.03" textLength="158.55" lengthAdjust="spacingAndGlyphs">GTGAGCGCGGGCTCCGGCGGGAGCGGCCACAGAGCTCGGGGC</text>
<text x="13.80" y="533.22" font-size="5.6" fill="#555" text-anchor="start" font-weight="normal" font-family="Liberation Mono" stroke="#555" stroke-width="0.03" textLength="18.88" lengthAdjust="spacingAndGlyphs">Human</text>
<line x1="13.80" y1="533.70" x2="32.67" y2="533.70" stroke="#888" stroke-width="0.45" stroke-dasharray="0.8,0.5"/>
<text x="13.80" y="540.52" font-size="5.6" fill="#555" text-anchor="start" font-weight="normal" font-family="Liberation Mono" stroke="#555" stroke-width="0.03" textLength="30.20" lengthAdjust="spacingAndGlyphs">Marmoset</text>
<rect x="52.00" y="528.10" width="207.62" height="6.20" fill="#e9f0f7"/>
<rect x="153.93" y="527.90" width="3.77" height="6.60" fill="#3f78a8"/>
<text x="52.00" y="533.22" font-size="5.6" fill="#46668e" text-anchor="start" font-weight="normal" font-family="Liberation Mono" stroke="#46668e" stroke-width="0.03" textLength="207.62" lengthAdjust="spacingAndGlyphs">TTGGGGTAGCTTTGTGAATGCGTGGCTCCCTGGAAATCCCGAGGCTGGTCTCCGC</text>
<text x="153.93" y="533.22" font-size="5.6" fill="#cfe0ee" text-anchor="start" font-weight="normal" font-family="Liberation Mono" stroke="#cfe0ee" stroke-width="0.03" textLength="3.77" lengthAdjust="spacingAndGlyphs">C</text>
<rect x="52.00" y="535.40" width="207.62" height="6.20" fill="#e9f0f7"/>
<text x="52.00" y="540.52" font-size="5.6" fill="#46668e" text-anchor="start" font-weight="normal" font-family="Liberation Mono" stroke="#46668e" stroke-width="0.03" textLength="207.62" lengthAdjust="spacingAndGlyphs">GTCGGGAAACT--GTGCACGCGTGGCCCCCTGGAAATCCCGAGGCTACTCTGAGC</text>
</svg>
</body></html>
